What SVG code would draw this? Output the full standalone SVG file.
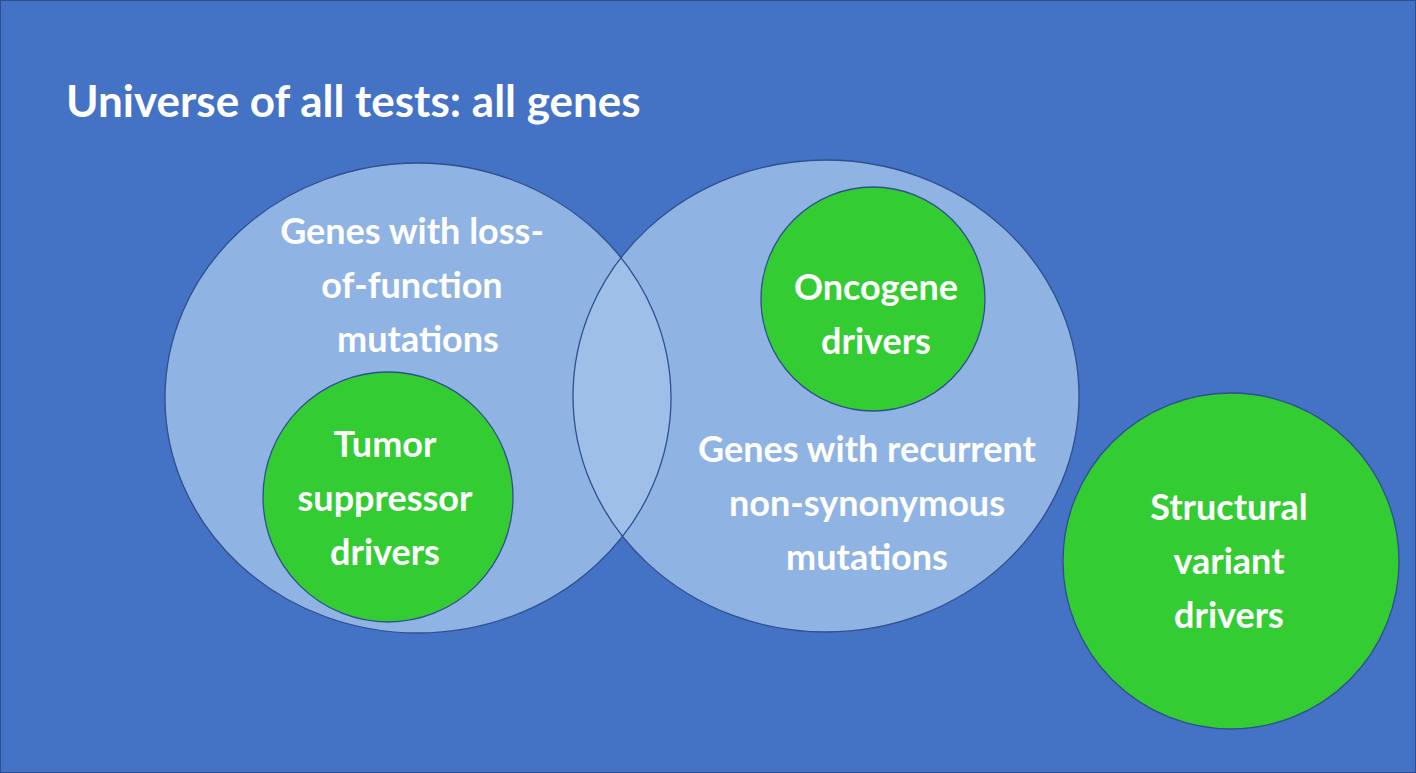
<svg xmlns="http://www.w3.org/2000/svg" width="1416" height="773" viewBox="0 0 1416 773">
<style>
.set{fill:#8FB4E3}
.ol{fill:none;stroke:#2F4F8F;stroke-width:1.3}
.g{fill:#33CC33;stroke:#2F4F8F;stroke-width:1.3}
text{font-family:Lato,"Open Sans",sans-serif;font-weight:bold;fill:#fff;text-anchor:middle;font-size:36px}
</style>
<defs><clipPath id="cl"><ellipse cx="418" cy="398" rx="253" ry="235"/></clipPath></defs>
<rect width="1416" height="773" fill="#4472C4" stroke="#2F4F8F" stroke-width="2"/>
<text x="66" y="117" style="text-anchor:start;font-size:44px">Universe of all tests: all genes</text>
<g id="lof"><ellipse class="set" cx="418" cy="398" rx="253" ry="235"/></g>
<g id="rec"><ellipse class="set" cx="826" cy="396" rx="253" ry="236"/></g>
<ellipse cx="826" cy="396" rx="253" ry="236" fill="#9EC0E8" clip-path="url(#cl)"/>
<ellipse class="ol" cx="418" cy="398" rx="253" ry="235"/>
<ellipse class="ol" cx="826" cy="396" rx="253" ry="236"/>
<text x="412" y="244">Genes with loss-</text>
<text x="412" y="298">of-function</text>
<text x="418" y="352">mutations</text>
<text x="867" y="462">Genes with recurrent</text>
<text x="867" y="516">non-synonymous</text>
<text x="867" y="570">mutations</text>
<g id="tsg"><circle class="g" cx="388" cy="497" r="125"/>
<text x="385" y="457">Tumor</text><text x="385" y="511">suppressor</text><text x="385" y="565">drivers</text></g>
<g id="onc"><circle class="g" cx="873" cy="299" r="112"/>
<text x="876" y="300">Oncogene</text><text x="876" y="354">drivers</text></g>
<g id="sv"><circle class="g" cx="1231" cy="561" r="168"/>
<text x="1229" y="520">Structural</text><text x="1229" y="574">variant</text><text x="1229" y="628">drivers</text></g>
<g id="connectors"/>
</svg>
